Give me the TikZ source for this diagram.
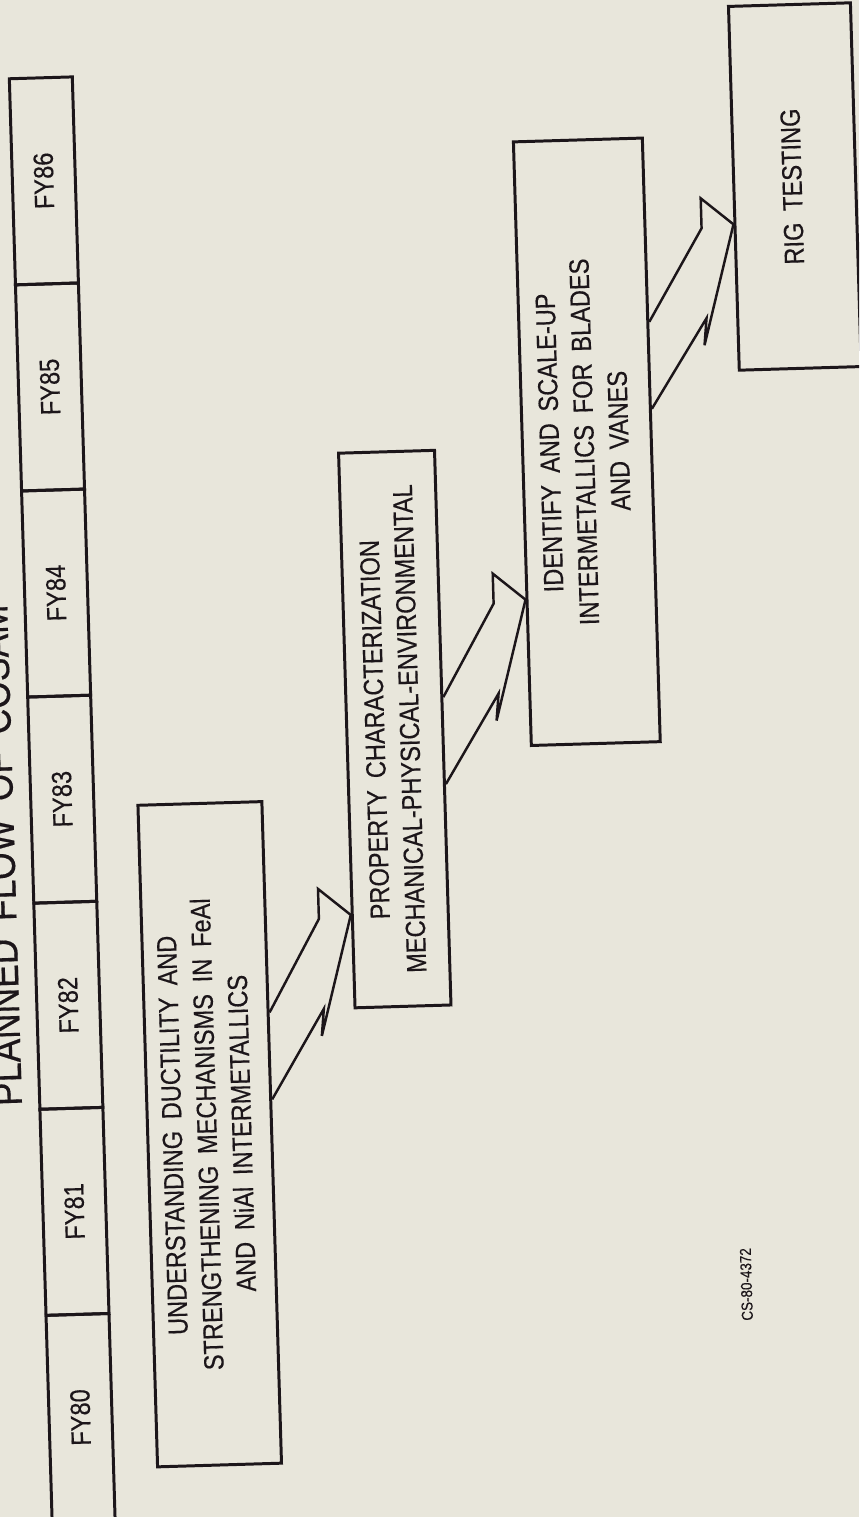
\documentclass[tikz,border=0pt]{standalone}
\usepackage{fontspec}
\setmainfont{Liberation Sans}[FakeStretch=0.85,WordSpace=1.8,FakeBold=0.35]
\usetikzlibrary{calc}
\definecolor{bg}{RGB}{232,230,219}
\definecolor{ink}{RGB}{28,22,26}
\tikzset{
  cell/.style={draw=ink, line width=1.7pt, minimum width=1.26cm, minimum height=4.124cm, inner sep=0pt, text=ink},
  flowbox/.style={draw=ink, line width=1.7pt, inner sep=0pt, text=ink},
  arrowline/.style={draw=ink, line width=1.4pt, line join=miter},
  boxfont/.style={font=\fontsize{15.8}{19.8}\selectfont}
}
\newcommand\rottext[1]{\rotatebox{90}{\begin{tabular}{@{}c@{}}#1\end{tabular}}}
\newcommand\bigarrow[2]{%
  \draw[arrowline] ($(#1.east |- #2)+(0,95)$) -- ($(#2)+(-32,3)$) -- ($(#2)+(-32,-27)$) -- (#2)
     -- ($(#2)+(-32.5,120)$) -- ($(#2)+(-29.7,93)$) -- ($(#1.east |- #2)+(0,182)$);}
\begin{document}
\begin{tikzpicture}[x=0.02cm,y=-0.02cm]
\fill[bg] (0,0) rectangle (859,1517);
\useasboundingbox (0,0) rectangle (859,1517);
\clip (0,0) rectangle (859,1517);
\begin{scope}[transform canvas={rotate=1.7}]
% title (partly outside the page, as in the scan)
\node[anchor=east, inner sep=0pt, text=ink] (title) at (-10,855)
  {\rotatebox{90}{\fontsize{23.7}{28}\selectfont PLANNED FLOW OF COSAM}};
% timeline
\foreach \lab [count=\k from 0] in {FY86,FY85,FY84,FY83,FY82,FY81,FY80}{
  \node[cell, boxfont] (fy\k) at (38.5,{182.1+206.2*\k}) {\rotatebox{90}{\lab}};
}
% boxes
\node[flowbox, boxfont, minimum width=2.48cm, minimum height=13.24cm] (b1) at (176,1140)
  {\rottext{UNDERSTANDING DUCTILITY AND\\STRENGTHENING MECHANISMS IN FeAl\\AND NiAl INTERMETALLICS}};
\node[flowbox, boxfont, minimum width=1.92cm, minimum height=11.1cm] (b2) at (373,740.5)
  {\rottext{PROPERTY CHARACTERIZATION\\MECHANICAL-PHYSICAL-ENVIRONMENTAL}};
\node[flowbox, boxfont, minimum width=2.58cm, minimum height=12.08cm] (b3) at (573.5,459)
  {\rottext{IDENTIFY AND SCALE-UP\\INTERMETALLICS FOR BLADES\\AND VANES}};
\node[flowbox, boxfont, minimum width=2.44cm, minimum height=7.28cm] (b4) at (789,210)
  {\rottext{RIG TESTING}};
% arrows
\coordinate (t1) at (b2.west |- 0,925);
\coordinate (t2) at (b3.west |- 0,615);
\coordinate (t3) at (b4.west |- 0,246);
\bigarrow{b1}{t1}
\bigarrow{b2}{t2}
\bigarrow{b3}{t3}
% photo number
\node[text=ink, font=\fontsize{9}{10}\selectfont] (code) at (708,1306) {\rotatebox{90}{CS-80-4372}};
\end{scope}
\end{tikzpicture}
\end{document}
